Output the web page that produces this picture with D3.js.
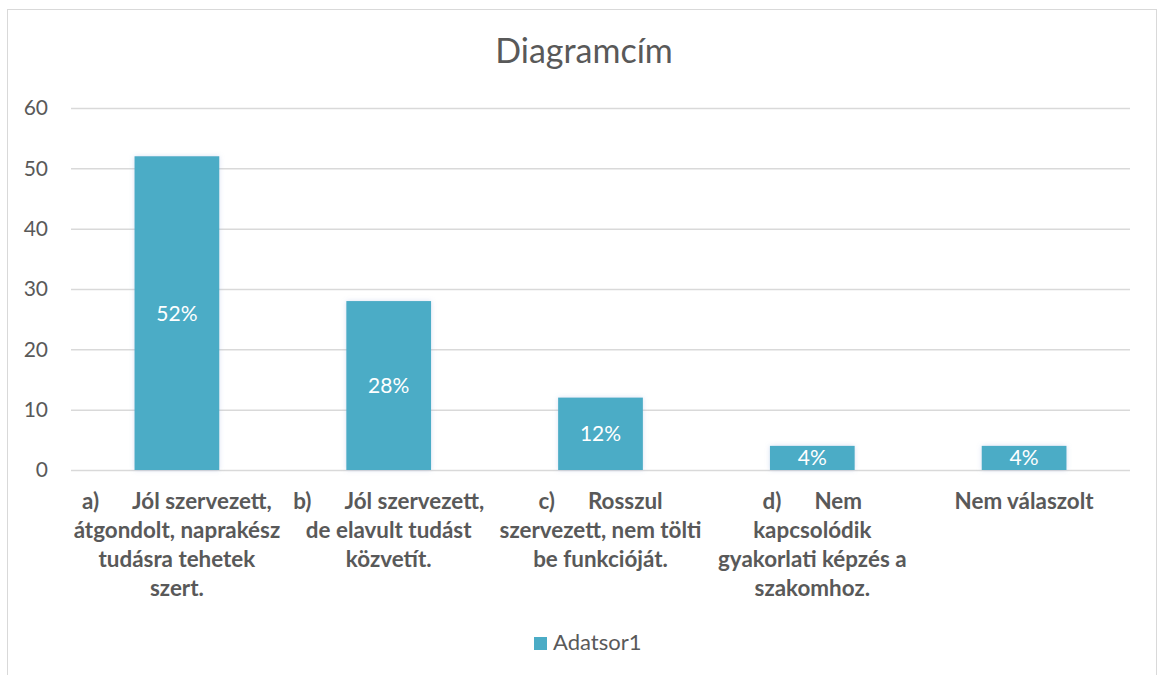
<!DOCTYPE html>
<html>
<head>
<meta charset="utf-8">
<script src="https://cdn.jsdelivr.net/npm/d3@7"></script>
<style>
  html, body { margin: 0; padding: 0; background: #ffffff; }
  svg { display: block; }
</style>
</head>
<body>
<svg id="chart" width="1159" height="675"></svg>
<script>
// ---- data ----
const chartTitle = "Diagramcím";
const seriesName = "Adatsor1";
const categories = [
  "a)\tJól szervezett,\nátgondolt, naprakész\ntudásra tehetek\nszert.",
  "b)\tJól szervezett,\nde elavult tudást\nközvetít.",
  "c)\tRosszul\nszervezett, nem tölti\nbe funkcióját.",
  "d)\tNem\nkapcsolódik\ngyakorlati képzés a\nszakomhoz.",
  "Nem válaszolt"
];
const values = [52, 28, 12, 4, 4];
const valueLabels = ["52%", "28%", "12%", "4%", "4%"];
const yTicks = [0, 10, 20, 30, 40, 50, 60];

// ---- styles ----
const FONT = "Lato, 'Open Sans', sans-serif";
const TEXT = "#595959";
const GRID = "#d9d9d9";
const BAR = "#4bacc6";

const svg = d3.select("#chart");

const defs = svg.append("defs");
const f = defs.append("filter").attr("id", "glow")
  .attr("x", "-20%").attr("y", "-20%").attr("width", "140%").attr("height", "140%");
f.append("feGaussianBlur").attr("in", "SourceAlpha").attr("stdDeviation", 2.5).attr("result", "b");
f.append("feFlood").attr("flood-color", "#8fa6d8").attr("flood-opacity", 0.35).attr("result", "c");
f.append("feComposite").attr("in", "c").attr("in2", "b").attr("operator", "in").attr("result", "s");
const fm = f.append("feMerge");
fm.append("feMergeNode").attr("in", "s");
fm.append("feMergeNode").attr("in", "SourceGraphic");

// chart border
svg.append("rect")
  .attr("x", 7.5).attr("y", 9.5).attr("width", 1149).attr("height", 700)
  .attr("fill", "#fff").attr("stroke", GRID).attr("stroke-width", 1);

const plot = { left: 71, right: 1130, top: 108, bottom: 470 };

const x = d3.scaleBand()
  .domain(categories)
  .range([plot.left, plot.right])
  .paddingInner(0.6)
  .paddingOuter(0.3);

const y = d3.scaleLinear()
  .domain([0, 60])
  .range([plot.bottom, plot.top]);

// title
svg.append("text")
  .attr("x", 584).attr("y", 63)
  .attr("text-anchor", "middle")
  .attr("font-family", FONT).attr("font-size", 34)
  .attr("fill", TEXT)
  .text(chartTitle);

// gridlines
const yAxis = d3.axisLeft(y).tickValues(yTicks).tickSize(-(plot.right - plot.left)).tickPadding(23);
const gy = svg.append("g")
  .attr("transform", `translate(${plot.left},0)`)
  .call(yAxis);
gy.select(".domain").remove();
gy.selectAll(".tick line").attr("stroke", GRID).attr("stroke-width", 1.5);
gy.selectAll(".tick text")
  .attr("font-family", FONT).attr("font-size", 21)
  .attr("fill", TEXT);

// bars
svg.append("g").selectAll("rect")
  .data(values)
  .join("rect")
  .attr("x", (d, i) => x(categories[i]))
  .attr("y", d => y(d))
  .attr("width", x.bandwidth())
  .attr("height", d => y(0) - y(d))
  .attr("fill", BAR)
  .attr("filter", "url(#glow)");

// data labels
svg.append("g").selectAll("text")
  .data(values)
  .join("text")
  .attr("x", (d, i) => x(categories[i]) + x.bandwidth() / 2)
  .attr("y", d => (y(d) + y(0)) / 2)
  .attr("dy", "0.36em")
  .attr("text-anchor", "middle")
  .attr("font-family", FONT).attr("font-size", 21)
  .attr("fill", "#ffffff")
  .text((d, i) => valueLabels[i]);

// x category labels
const xl = svg.append("g");
categories.forEach((c, i) => {
  const cx = x(c) + x.bandwidth() / 2;
  const lines = c.split("\n");
  lines.forEach((ln, j) => {
    const t = xl.append("text")
      .attr("x", cx)
      .attr("y", 509 + j * 29)
      .attr("text-anchor", "middle")
      .attr("font-family", FONT).attr("font-size", 22.4)
      .attr("font-weight", "bold")
      .attr("fill", TEXT);
    const parts = ln.split("\t");
    parts.forEach((p, k) => {
      const ts = t.append("tspan").text(p);
      if (k > 0) ts.attr("dx", 33);
    });
  });
});

// legend
const lg = svg.append("g");
lg.append("rect")
  .attr("x", 534).attr("y", 637).attr("width", 13).attr("height", 13)
  .attr("fill", BAR);
lg.append("text")
  .attr("x", 553).attr("y", 650)
  .attr("font-family", FONT).attr("font-size", 22)
  .attr("fill", TEXT)
  .text(seriesName);
</script>
</body>
</html>
